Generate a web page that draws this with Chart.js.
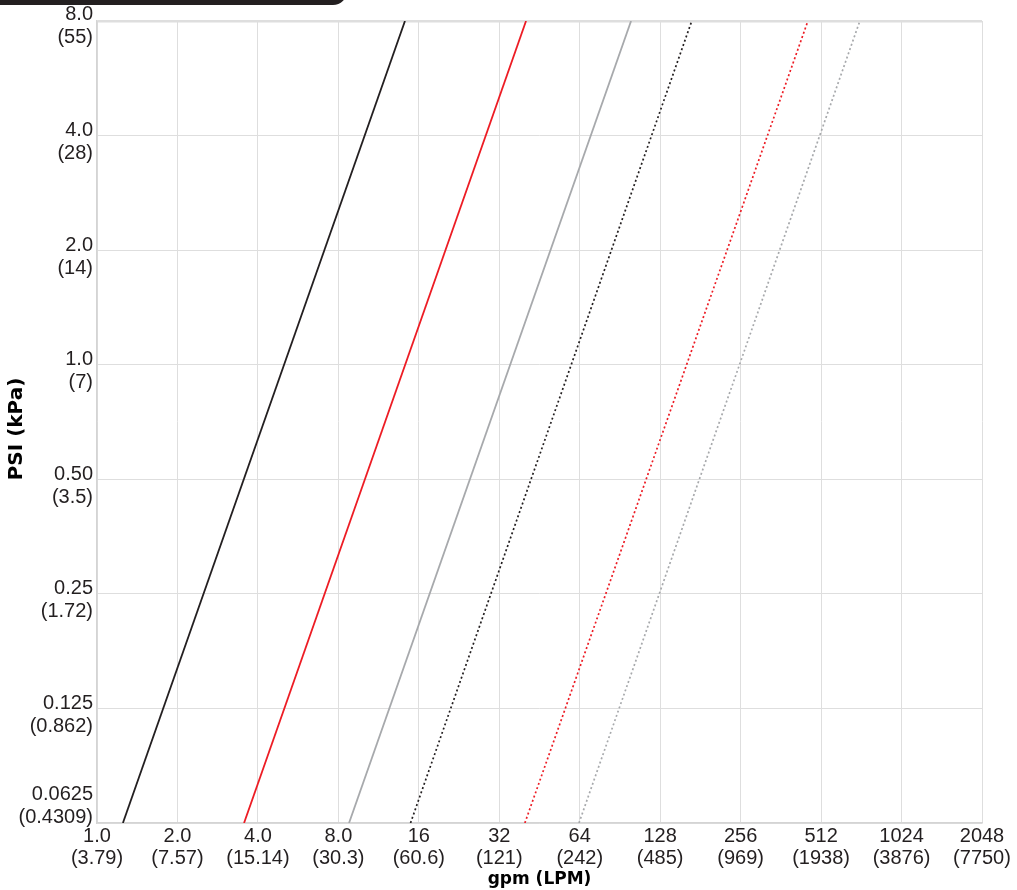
<!DOCTYPE html>
<html>
<head>
<meta charset="utf-8">
<script src="https://cdn.jsdelivr.net/npm/chart.js@4.4.1/dist/chart.umd.min.js"></script>
<style>
    body { margin: 0; background: #fff; }
    #wrap { position: relative; width: 1017px; height: 890px; overflow: hidden; }
    #tab { position: absolute; left: 0; top: -16px; width: 347px; height: 21px; background: #231f20; border-bottom-right-radius: 14px; }
</style>
</head>
<body>
<div id="wrap">
    <div id="tab"></div>
    <canvas id="flowChart"></canvas>
</div>
<script>
// Axis ticks (log2 spacing) and their dual-unit labels
const xTicks = [1, 2, 4, 8, 16, 32, 64, 128, 256, 512, 1024, 2048];
const xLabels = [
    ['1.0', '(3.79)'], ['2.0', '(7.57)'], ['4.0', '(15.14)'], ['8.0', '(30.3)'],
    ['16', '(60.6)'], ['32', '(121)'], ['64', '(242)'], ['128', '(485)'],
    ['256', '(969)'], ['512', '(1938)'], ['1024', '(3876)'], ['2048', '(7750)']
];
const yTicks = [0.0625, 0.125, 0.25, 0.5, 1, 2, 4, 8];
const yLabels = [
    ['0.0625', '(0.4309)'], ['0.125', '(0.862)'], ['0.25', '(1.72)'], ['0.50', '(3.5)'],
    ['1.0', '(7)'], ['2.0', '(14)'], ['4.0', '(28)'], ['8.0', '(55)']
];

// Pressure range shown by every curve
const psiLow = 0.0625;
const psiHigh = 8;

// Flow (gpm) of each curve at the low and high pressure
const gpmAtLow = [1.25, 3.55, 8.77, 14.9, 39.9, 63.6];
const gpmAtHigh = [14.2, 40.3, 99.6, 168, 457, 715];

// Line styles for each curve
const lineColors = ['#231f20', '#ed1c24', '#a7a9ac', '#231f20', '#ed1c24', '#a7a9ac'];
const lineDashed = [false, false, false, true, true, true];

const labelFont = '"Liberation Sans", Arial, sans-serif';
const titleFont = '"DejaVu Sans", sans-serif';

const datasets = gpmAtLow.map((low, i) => ({
    data: [{ x: low, y: psiLow }, { x: gpmAtHigh[i], y: psiHigh }],
    borderColor: lineColors[i],
    borderWidth: lineDashed[i] ? 1.7 : 1.8,
    borderDash: lineDashed[i] ? [2, 2.5] : [],
    pointRadius: 0,
    fill: false,
    tension: 0
}));

// Two-line y labels: sit a little below their grid line, the lowest one above it
const yLabelPlugin = {
    id: 'yLabels',
    afterDraw(chart) {
        const { ctx } = chart;
        const y = chart.scales.y;
        ctx.save();
        ctx.font = '20px ' + labelFont;
        ctx.fillStyle = '#231f20';
        ctx.textAlign = 'right';
        ctx.textBaseline = 'middle';
        yTicks.forEach((v, i) => {
            const py = y.getPixelForValue(v);
            let first = py - 5;
            if (i === 0) first = py - 29;
            if (i === yTicks.length - 1) first = py - 7;
            ctx.fillText(yLabels[i][0], y.right - 4, first);
            ctx.fillText(yLabels[i][1], y.right - 4, first + 23);
        });
        ctx.restore();
    }
};

const ctx = document.getElementById('flowChart');
new Chart(ctx, {
    type: 'line',
    data: { datasets },
    plugins: [yLabelPlugin],
    options: {
        responsive: true,
        maintainAspectRatio: false,
        animation: false,
        layout: {
            padding: { top: 21, right: 35, bottom: 0, left: 0 }
        },
        plugins: {
            legend: { display: false },
            tooltip: { enabled: false }
        },
        scales: {
            x: {
                type: 'logarithmic',
                min: 1,
                max: 2048,
                afterBuildTicks: scale => { scale.ticks = xTicks.map(v => ({ value: v })); },
                afterFit: scale => { scale.height = 67; },
                grid: { color: '#dedede', lineWidth: 1, drawTicks: false },
                border: { display: true, color: '#d4d4d4', width: 1.5 },
                ticks: {
                    autoSkip: false,
                    maxRotation: 0,
                    padding: 2,
                    color: '#231f20',
                    font: { family: labelFont, size: 20, lineHeight: 1.1 },
                    callback: (value) => {
                        const idx = xTicks.indexOf(value);
                        return idx >= 0 ? xLabels[idx] : '';
                    }
                },
                title: {
                    display: true,
                    text: 'gpm (LPM)',
                    color: '#000',
                    padding: { top: 0, bottom: 0 },
                    font: { family: titleFont, size: 17, weight: 'bold' }
                }
            },
            y: {
                type: 'logarithmic',
                min: psiLow,
                max: psiHigh,
                afterBuildTicks: scale => { scale.ticks = yTicks.map(v => ({ value: v })); },
                afterFit: scale => { scale.width = 97; },
                grid: {
                    color: '#dedede',
                    lineWidth: c => (c.tick && c.tick.value === psiHigh ? 2.5 : 1),
                    drawTicks: false
                },
                border: { display: true, color: '#d4d4d4', width: 1.5 },
                ticks: { display: false },
                title: {
                    display: true,
                    text: 'PSI (kPa)  ',
                    color: '#000',
                    padding: { top: 5, bottom: 0 },
                    font: { family: titleFont, size: 20, weight: 'bold' }
                }
            }
        }
    }
});
</script>
</body>
</html>
